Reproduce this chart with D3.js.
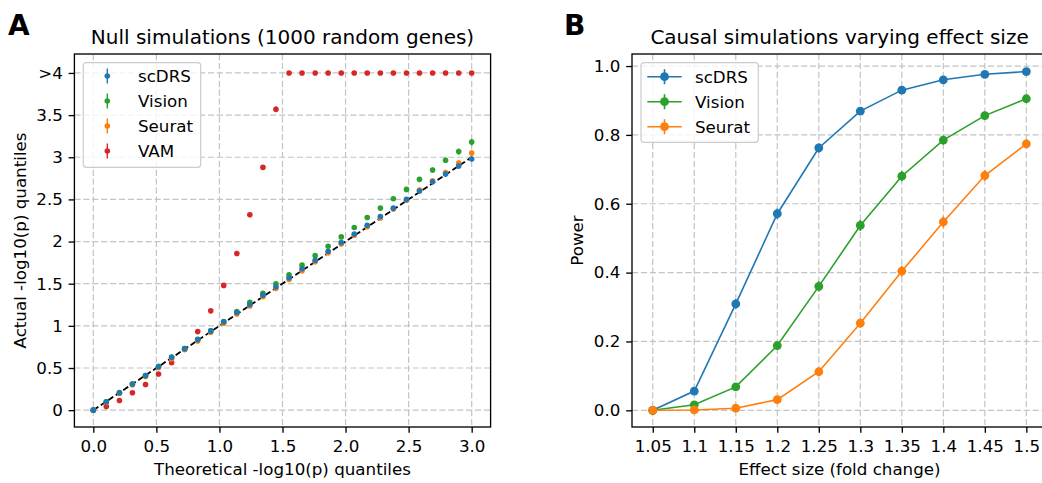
<!DOCTYPE html>
<html>
<head>
<meta charset="utf-8">
<script src="https://cdn.jsdelivr.net/npm/d3@7"></script>
<style>
  html, body { margin: 0; padding: 0; background: #fff; }
  svg { display: block; font-family: "DejaVu Sans", sans-serif; }
</style>
</head>
<body>
<svg id="chart" width="1042" height="483"></svg>
<script>
// ---------- Panel A data (null simulations) ----------
const theoretical = [0, 0.103, 0.207, 0.31, 0.414, 0.517, 0.621, 0.724, 0.828, 0.931,
  1.034, 1.138, 1.241, 1.345, 1.448, 1.552, 1.655, 1.759, 1.862, 1.966,
  2.069, 2.172, 2.276, 2.379, 2.483, 2.586, 2.69, 2.793, 2.897, 3.0];
const scdrsNull = [0, 0.10, 0.206, 0.31, 0.41, 0.515, 0.626, 0.73, 0.837, 0.94,
  1.048, 1.158, 1.254, 1.364, 1.464, 1.571, 1.678, 1.777, 1.885, 1.988,
  2.09, 2.194, 2.297, 2.396, 2.50, 2.60, 2.71, 2.80, 2.896, 2.98];
const visionNull = [0, 0.10, 0.21, 0.31, 0.41, 0.52, 0.63, 0.73, 0.84, 0.94,
  1.05, 1.17, 1.28, 1.385, 1.50, 1.607, 1.72, 1.833, 1.944, 2.055,
  2.167, 2.285, 2.397, 2.507, 2.619, 2.738, 2.849, 2.964, 3.067, 3.18];
const seuratNull = [0, 0.09, 0.20, 0.30, 0.40, 0.505, 0.61, 0.72, 0.82, 0.925,
  1.03, 1.14, 1.235, 1.345, 1.445, 1.55, 1.655, 1.76, 1.865, 1.97,
  2.075, 2.175, 2.28, 2.385, 2.49, 2.61, 2.72, 2.82, 2.93, 3.05];
const vamNull = [0, 0.043, 0.115, 0.206, 0.305, 0.428, 0.563, 0.72, 0.932, 1.178,
  1.48, 1.857, 2.317, 2.88, 3.57, 4, 4, 4, 4, 4,
  4, 4, 4, 4, 4, 4, 4, 4, 4, 4];
const scdrsNullErr = [0, 0.004, 0.005, 0.006, 0.007, 0.008, 0.009, 0.01, 0.01, 0.011,
  0.012, 0.012, 0.013, 0.014, 0.015, 0.016, 0.017, 0.018, 0.019, 0.02,
  0.021, 0.022, 0.023, 0.024, 0.025, 0.026, 0.027, 0.029, 0.031, 0.034];
const visionNullErr = [0, 0.004, 0.005, 0.006, 0.007, 0.008, 0.009, 0.01, 0.01, 0.011,
  0.012, 0.013, 0.014, 0.015, 0.016, 0.017, 0.018, 0.019, 0.02, 0.021,
  0.022, 0.023, 0.024, 0.026, 0.027, 0.029, 0.031, 0.033, 0.036, 0.04];
const seuratNullErr = [0, 0.004, 0.005, 0.006, 0.007, 0.008, 0.009, 0.01, 0.01, 0.011,
  0.012, 0.012, 0.013, 0.014, 0.015, 0.016, 0.017, 0.018, 0.019, 0.02,
  0.021, 0.022, 0.023, 0.024, 0.025, 0.026, 0.028, 0.03, 0.033, 0.036];
const vamNullErr = [0, 0.004, 0.005, 0.006, 0.007, 0.008, 0.009, 0.01, 0.011, 0.012,
  0.014, 0.016, 0.019, 0.024, 0.036, 0, 0, 0, 0, 0,
  0, 0, 0, 0, 0, 0, 0, 0, 0, 0];
const nullXTicks = [0, 0.5, 1, 1.5, 2, 2.5, 3];
const nullXTickLabels = ["0.0", "0.5", "1.0", "1.5", "2.0", "2.5", "3.0"];
const nullYTicks = [0, 0.5, 1, 1.5, 2, 2.5, 3, 3.5, 4];
const nullYTickLabels = ["0", "0.5", "1", "1.5", "2", "2.5", "3", "3.5", ">4"];

// ---------- Panel B data (causal simulations) ----------
const effectSizes = ["1.05", "1.1", "1.15", "1.2", "1.25", "1.3", "1.35", "1.4", "1.45", "1.5"];
const scdrsPower = [0.0, 0.056, 0.309, 0.571, 0.762, 0.869, 0.930, 0.960, 0.976, 0.984];
const visionPower = [0.0, 0.016, 0.068, 0.188, 0.360, 0.537, 0.680, 0.785, 0.856, 0.905];
const seuratPower = [0.0, 0.001, 0.006, 0.031, 0.112, 0.253, 0.404, 0.547, 0.682, 0.774];
const scdrsPowerErr = [0.001, 0.007, 0.014, 0.015, 0.013, 0.011, 0.008, 0.006, 0.005, 0.004];
const visionPowerErr = [0.001, 0.004, 0.008, 0.012, 0.015, 0.016, 0.015, 0.013, 0.011, 0.009];
const seuratPowerErr = [0.0, 0.001, 0.002, 0.005, 0.010, 0.014, 0.016, 0.016, 0.015, 0.013];
const powerYTicks = [0.0, 0.2, 0.4, 0.6, 0.8, 1.0];

const methods = ["scDRS", "Vision", "Seurat", "VAM"];
const colors = { scDRS: "#1f77b4", Vision: "#2ca02c", Seurat: "#ff7f0e", VAM: "#d62728" };

const svg = d3.select("#chart");
const FS = 16.7;
const gridColor = "#c4c4c4";

function styleAxis(g) {
  g.selectAll("path.domain").remove();
  g.selectAll(".tick line").attr("stroke", "#000").attr("stroke-width", 1.33);
  g.selectAll(".tick text").attr("fill", "#000").style("font-size", FS + "px")
    .style("font-family", "DejaVu Sans");
}

function frame(g, x0, y0, x1, y1) {
  g.append("rect").attr("x", x0).attr("y", y0).attr("width", x1 - x0).attr("height", y1 - y0)
    .attr("fill", "none").attr("stroke", "#000").attr("stroke-width", 1.33);
}

// ================= Panel A =================
{
  const L = 74.4, R = 490.6, T = 54, B = 427;
  const x = d3.scaleLinear().domain([-0.15, 3.15]).range([L, R]);
  const y = d3.scaleLinear().domain([-0.2, 4.225]).range([B, T]);
  const g = svg.append("g");

  g.selectAll("line.gx").data(nullXTicks).join("line")
    .attr("x1", d => x(d)).attr("x2", d => x(d)).attr("y1", T).attr("y2", B)
    .attr("stroke", gridColor).attr("stroke-width", 1.2).attr("stroke-dasharray", "6.2,2.7");
  g.selectAll("line.gy").data(nullYTicks).join("line")
    .attr("y1", d => y(d)).attr("y2", d => y(d)).attr("x1", L).attr("x2", R)
    .attr("stroke", gridColor).attr("stroke-width", 1.2).attr("stroke-dasharray", "6.2,2.7");

  g.append("line").attr("x1", x(0)).attr("y1", y(0)).attr("x2", x(3)).attr("y2", y(3))
    .attr("stroke", "#000").attr("stroke-width", 1.8).attr("stroke-dasharray", "6,3");

  const series = [
    { name: "VAM", v: vamNull, e: vamNullErr },
    { name: "Seurat", v: seuratNull, e: seuratNullErr },
    { name: "Vision", v: visionNull, e: visionNullErr },
    { name: "scDRS", v: scdrsNull, e: scdrsNullErr }
  ];
  series.forEach(s => {
    const pts = theoretical.map((t, i) => ({ t, v: s.v[i], e: s.e[i] }));
    const sg = g.append("g");
    sg.selectAll("line").data(pts).join("line")
      .attr("x1", d => x(d.t)).attr("x2", d => x(d.t))
      .attr("y1", d => y(d.v - d.e)).attr("y2", d => y(d.v + d.e))
      .attr("stroke", colors[s.name]).attr("stroke-width", 1.4);
    sg.selectAll("circle").data(pts).join("circle")
      .attr("cx", d => x(d.t)).attr("cy", d => y(d.v)).attr("r", 2.8)
      .attr("fill", colors[s.name]);
  });

  frame(g, L, T, R, B);

  const ax = g.append("g").attr("transform", `translate(0,${B})`)
    .call(d3.axisBottom(x).tickValues(nullXTicks).tickFormat((d, i) => nullXTickLabels[i])
      .tickSizeOuter(0).tickSize(5.8).tickPadding(7));
  styleAxis(ax);
  const ay = g.append("g").attr("transform", `translate(${L},0)`)
    .call(d3.axisLeft(y).tickValues(nullYTicks).tickFormat((d, i) => nullYTickLabels[i])
      .tickSizeOuter(0).tickSize(5.8).tickPadding(5.8));
  styleAxis(ay);

  const lg = g.append("g");
  lg.append("rect").attr("x", 83.3).attr("y", 62.7).attr("width", 117.4).attr("height", 104.6)
    .attr("rx", 3).attr("fill", "#fff").attr("fill-opacity", 0.8)
    .attr("stroke", "#cccccc").attr("stroke-width", 1.2);
  methods.forEach((m, i) => {
    const cy = 76 + i * 25;
    lg.append("line").attr("x1", 107.3).attr("x2", 107.3).attr("y1", cy - 7.5).attr("y2", cy + 7.5)
      .attr("stroke", colors[m]).attr("stroke-width", 1.4);
    lg.append("circle").attr("cx", 107.3).attr("cy", cy).attr("r", 2.8).attr("fill", colors[m]);
    lg.append("text").attr("x", 138).attr("y", cy).attr("dy", "0.36em")
      .style("font-size", FS + "px").text(m);
  });

  g.append("text").attr("x", (L + R) / 2).attr("y", 43.5).attr("text-anchor", "middle")
    .style("font-size", "20px").text("Null simulations (1000 random genes)");
  g.append("text").attr("x", (L + R) / 2).attr("y", 475).attr("text-anchor", "middle")
    .style("font-size", FS + "px").text("Theoretical -log10(p) quantiles");
  g.append("text").attr("transform", `translate(25.5,${(T + B) / 2}) rotate(-90)`)
    .attr("text-anchor", "middle").style("font-size", FS + "px").text("Actual -log10(p) quantiles");
  g.append("text").attr("x", 8).attr("y", 35).style("font-size", "28px").style("font-weight", "bold")
    .text("A");
}

// ================= Panel B =================
{
  const L = 632, R = 1047.1, T = 54, B = 427;
  const x = d3.scaleLinear().domain([-0.5, 9.5]).range([L, R]);
  const y = d3.scaleLinear().domain([-0.0485, 1.035]).range([B, T]);
  const g = svg.append("g");
  const idx = effectSizes.map((d, i) => i);

  g.selectAll("line.gx").data(idx).join("line")
    .attr("x1", d => x(d)).attr("x2", d => x(d)).attr("y1", T).attr("y2", B)
    .attr("stroke", gridColor).attr("stroke-width", 1.2).attr("stroke-dasharray", "6.2,2.7");
  g.selectAll("line.gy").data(powerYTicks).join("line")
    .attr("y1", d => y(d)).attr("y2", d => y(d)).attr("x1", L).attr("x2", R)
    .attr("stroke", gridColor).attr("stroke-width", 1.2).attr("stroke-dasharray", "6.2,2.7");

  const series = [
    { name: "scDRS", v: scdrsPower, e: scdrsPowerErr },
    { name: "Vision", v: visionPower, e: visionPowerErr },
    { name: "Seurat", v: seuratPower, e: seuratPowerErr }
  ];
  const line = d3.line().x(d => x(d.i)).y(d => y(d.v));
  series.forEach(s => {
    const pts = effectSizes.map((c, i) => ({ i, v: s.v[i], e: s.e[i] }));
    const sg = g.append("g");
    sg.append("path").datum(pts).attr("d", line).attr("fill", "none")
      .attr("stroke", colors[s.name]).attr("stroke-width", 1.6);
    sg.selectAll("line").data(pts).join("line")
      .attr("x1", d => x(d.i)).attr("x2", d => x(d.i))
      .attr("y1", d => y(d.v - d.e)).attr("y2", d => y(d.v + d.e))
      .attr("stroke", colors[s.name]).attr("stroke-width", 1.6);
    sg.selectAll("circle").data(pts).join("circle")
      .attr("cx", d => x(d.i)).attr("cy", d => y(d.v)).attr("r", 4.4)
      .attr("fill", colors[s.name]);
  });

  frame(g, L, T, R, B);

  const ax = g.append("g").attr("transform", `translate(0,${B})`)
    .call(d3.axisBottom(x).tickValues(idx).tickFormat(i => effectSizes[i])
      .tickSizeOuter(0).tickSize(5.8).tickPadding(7));
  styleAxis(ax);
  const ay = g.append("g").attr("transform", `translate(${L},0)`)
    .call(d3.axisLeft(y).tickValues(powerYTicks).tickFormat(d3.format(".1f"))
      .tickSizeOuter(0).tickSize(5.8).tickPadding(5.8));
  styleAxis(ay);

  const lg = g.append("g");
  lg.append("rect").attr("x", 641).attr("y", 62.7).attr("width", 117.3).attr("height", 79.6)
    .attr("rx", 3).attr("fill", "#fff").attr("fill-opacity", 0.8)
    .attr("stroke", "#cccccc").attr("stroke-width", 1.2);
  ["scDRS", "Vision", "Seurat"].forEach((m, i) => {
    const cy = 76.7 + i * 25;
    lg.append("line").attr("x1", 647.3).attr("x2", 681.7).attr("y1", cy).attr("y2", cy)
      .attr("stroke", colors[m]).attr("stroke-width", 1.6);
    lg.append("line").attr("x1", 664.5).attr("x2", 664.5).attr("y1", cy - 7.5).attr("y2", cy + 7.5)
      .attr("stroke", colors[m]).attr("stroke-width", 1.6);
    lg.append("circle").attr("cx", 664.5).attr("cy", cy).attr("r", 4.4).attr("fill", colors[m]);
    lg.append("text").attr("x", 695).attr("y", cy).attr("dy", "0.36em")
      .style("font-size", FS + "px").text(m);
  });

  g.append("text").attr("x", (L + R) / 2).attr("y", 43.5).attr("text-anchor", "middle")
    .style("font-size", "20px").text("Causal simulations varying effect size");
  g.append("text").attr("x", (L + R) / 2).attr("y", 475).attr("text-anchor", "middle")
    .style("font-size", FS + "px").text("Effect size (fold change)");
  g.append("text").attr("transform", `translate(583,${(T + B) / 2}) rotate(-90)`)
    .attr("text-anchor", "middle").style("font-size", FS + "px").text("Power");
  g.append("text").attr("x", 564).attr("y", 35).style("font-size", "28px").style("font-weight", "bold")
    .text("B");
}
</script>
</body>
</html>
